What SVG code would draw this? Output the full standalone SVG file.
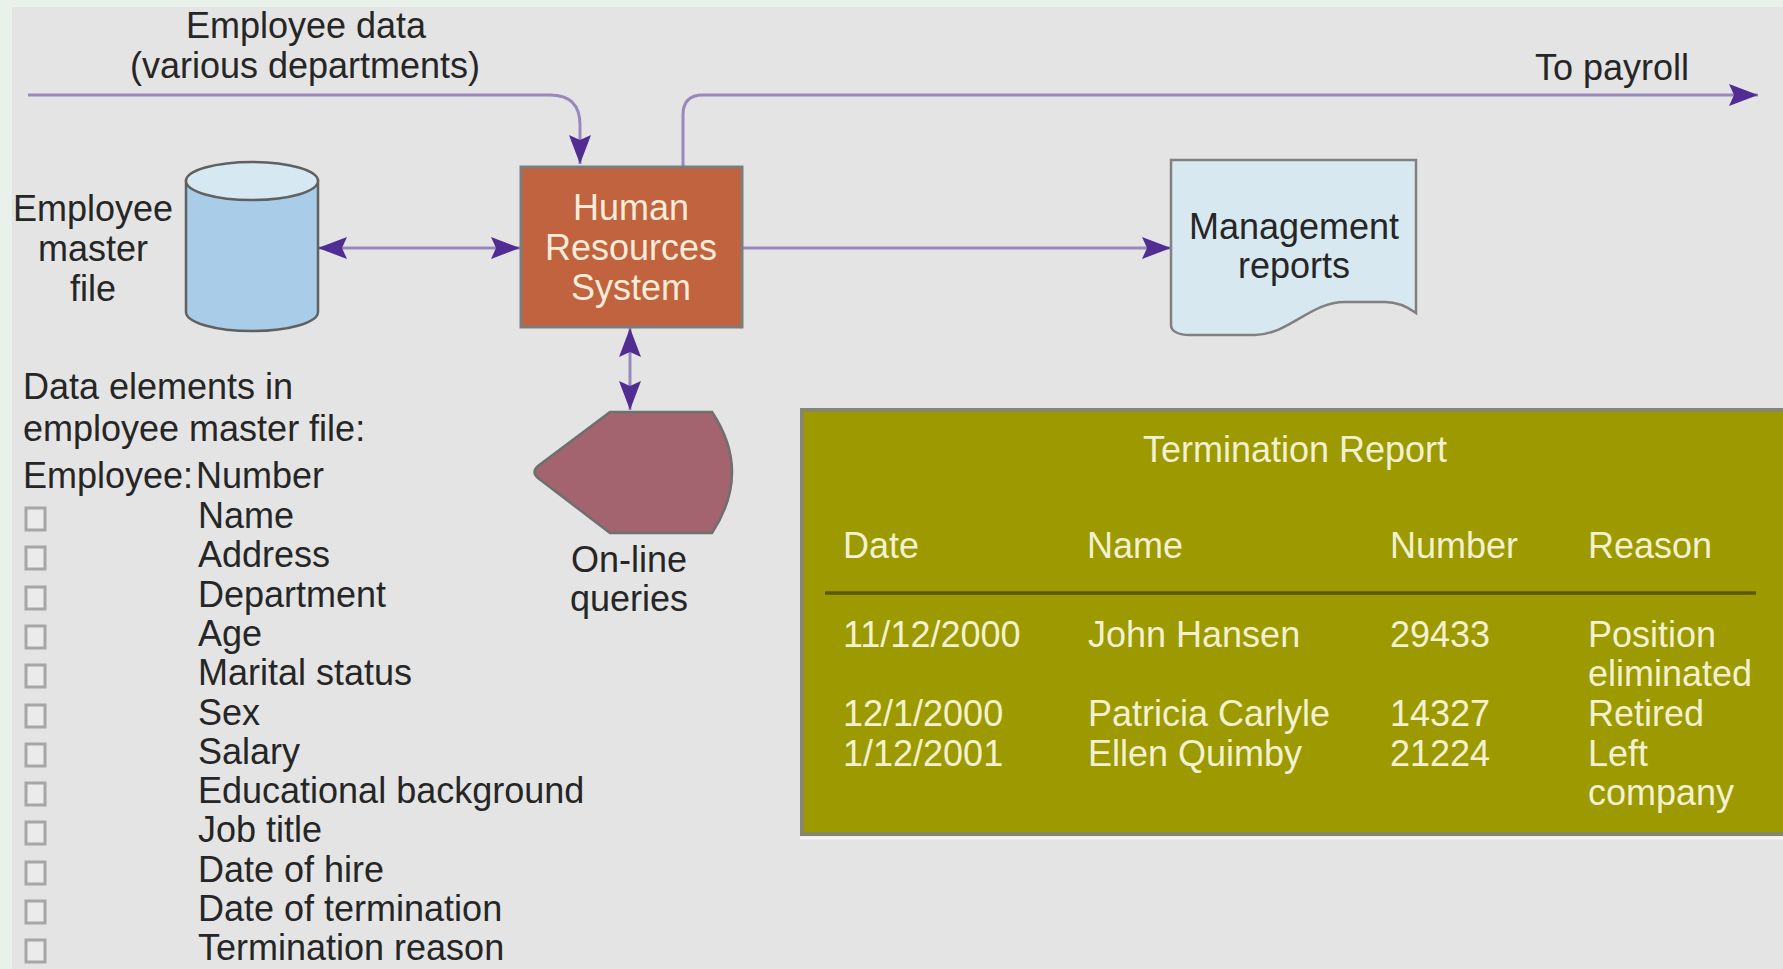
<svg xmlns="http://www.w3.org/2000/svg" width="1783" height="969" viewBox="0 0 1783 969">
<style>
.t{font-family:"Liberation Sans",Arial,sans-serif;font-size:36px;fill:#262626}
.w{font-family:"Liberation Sans",Arial,sans-serif;font-size:36px;fill:#f6ecd9}
.r{font-family:"Liberation Sans",Arial,sans-serif;font-size:36px;fill:#f3f1d2}
.c{stroke:#9a88bd;stroke-width:3;fill:none}
.cb{fill:#ebebeb;stroke:#a6a6a6;stroke-width:3}
</style>
<defs>
<marker id="ah" markerUnits="userSpaceOnUse" markerWidth="32" markerHeight="24" refX="29" refY="11" orient="auto-start-reverse" viewBox="0 0 32 24">
<path d="M0,0 L29,11 L0,22 L5,11 Z" fill="#512c92"/>
</marker>
</defs>
<rect x="0" y="0" width="1783" height="969" fill="#eaf0ea"/>
<rect x="12" y="7" width="1771" height="962" fill="#e4e4e4"/>

<g id="connectors">
<path class="c" d="M28,95 H550 Q580,95 580,125 V164" marker-end="url(#ah)"/>
<path class="c" d="M683,167 V115 Q683,95 703,95 H1758" marker-end="url(#ah)"/>
<path class="c" d="M318,248 H520" marker-start="url(#ah)" marker-end="url(#ah)"/>
<path class="c" d="M742,248 H1171" marker-end="url(#ah)"/>
<path class="c" d="M630,328 V410" marker-start="url(#ah)" marker-end="url(#ah)"/>
</g>

<g id="employee-data-label">
<text class="t" x="306" y="38" text-anchor="middle">Employee data</text>
<text class="t" x="305" y="78" text-anchor="middle">(various departments)</text>
</g>
<g id="to-payroll-label">
<text class="t" x="1612" y="80" text-anchor="middle">To payroll</text>
</g>

<g id="employee-master-file">
<path d="M186,181 V312 A66,19 0 0 0 318,312 V181 Z" fill="#a9cde8" stroke="#606060" stroke-width="2.5"/>
<ellipse cx="252" cy="181" rx="66" ry="19" fill="#d6e8f2" stroke="#606060" stroke-width="2.5"/>
<text class="t" x="93" y="221" text-anchor="middle">Employee</text>
<text class="t" x="93" y="261" text-anchor="middle">master</text>
<text class="t" x="93" y="301" text-anchor="middle">file</text>
</g>

<g id="hr-system">
<rect x="521" y="167" width="221" height="160" fill="#c1633e" stroke="#7c7c7c" stroke-width="3"/>
<text class="w" x="631" y="220" text-anchor="middle">Human</text>
<text class="w" x="631" y="260" text-anchor="middle">Resources</text>
<text class="w" x="631" y="300" text-anchor="middle">System</text>
</g>

<g id="management-reports">
<path d="M1171,160 H1416 V313 C1405,305 1396,302 1385,302 H1345 C1310,302 1290,334 1255,335 H1190 C1178,335 1171,331 1171,325 Z" fill="#d8e8f0" stroke="#808080" stroke-width="2.5"/>
<text class="t" x="1294" y="239" text-anchor="middle">Management</text>
<text class="t" x="1294" y="278" text-anchor="middle">reports</text>
</g>

<g id="online-queries">
<path d="M610,412 H712 Q752,472 712,533 H610 L538,478 Q531,472 538,466 Z" fill="#a3636f" stroke="#6f6f6f" stroke-width="2.5"/>
<text class="t" x="629" y="572" text-anchor="middle">On-line</text>
<text class="t" x="629" y="611" text-anchor="middle">queries</text>
</g>

<g id="data-elements">
<text class="t" x="23" y="399">Data elements in</text>
<text class="t" x="23" y="441">employee master file:</text>
<text class="t" x="23" y="488">Employee:<tspan x="196">Number</tspan></text>
<rect class="cb" x="26" y="508" width="19" height="22"/>
<rect class="cb" x="26" y="547" width="19" height="22"/>
<rect class="cb" x="26" y="587" width="19" height="22"/>
<rect class="cb" x="26" y="626" width="19" height="22"/>
<rect class="cb" x="26" y="665" width="19" height="22"/>
<rect class="cb" x="26" y="705" width="19" height="22"/>
<rect class="cb" x="26" y="744" width="19" height="22"/>
<rect class="cb" x="26" y="783" width="19" height="22"/>
<rect class="cb" x="26" y="822" width="19" height="22"/>
<rect class="cb" x="26" y="862" width="19" height="22"/>
<rect class="cb" x="26" y="901" width="19" height="22"/>
<rect class="cb" x="26" y="940" width="19" height="22"/>
<text class="t" x="198" y="528">Name</text>
<text class="t" x="198" y="567">Address</text>
<text class="t" x="198" y="607">Department</text>
<text class="t" x="198" y="646">Age</text>
<text class="t" x="198" y="685">Marital status</text>
<text class="t" x="198" y="725">Sex</text>
<text class="t" x="198" y="764">Salary</text>
<text class="t" x="198" y="803">Educational background</text>
<text class="t" x="198" y="842">Job title</text>
<text class="t" x="198" y="882">Date of hire</text>
<text class="t" x="198" y="921">Date of termination</text>
<text class="t" x="198" y="960">Termination reason</text>
</g>

<g id="termination-report">
<rect x="802" y="410" width="1000" height="424" fill="#9c9a00" stroke="#86866a" stroke-width="4"/>
<line x1="800" y1="838" x2="1783" y2="838" stroke="#f4f4f8" stroke-width="3"/>
<text class="r" x="1295" y="462" text-anchor="middle">Termination Report</text>
<text class="r" x="843" y="558">Date</text>
<text class="r" x="1087" y="558">Name</text>
<text class="r" x="1390" y="558">Number</text>
<text class="r" x="1588" y="558">Reason</text>
<line x1="825" y1="593" x2="1756" y2="593" stroke="#5c5a00" stroke-width="3.5"/>
<text class="r" x="843" y="647">11/12/2000</text>
<text class="r" x="1088" y="647">John Hansen</text>
<text class="r" x="1390" y="647">29433</text>
<text class="r" x="1588" y="647">Position</text>
<text class="r" x="1588" y="686">eliminated</text>
<text class="r" x="843" y="726">12/1/2000</text>
<text class="r" x="1088" y="726">Patricia Carlyle</text>
<text class="r" x="1390" y="726">14327</text>
<text class="r" x="1588" y="726">Retired</text>
<text class="r" x="843" y="766">1/12/2001</text>
<text class="r" x="1088" y="766">Ellen Quimby</text>
<text class="r" x="1390" y="766">21224</text>
<text class="r" x="1588" y="766">Left</text>
<text class="r" x="1588" y="805">company</text>
</g>
</svg>
